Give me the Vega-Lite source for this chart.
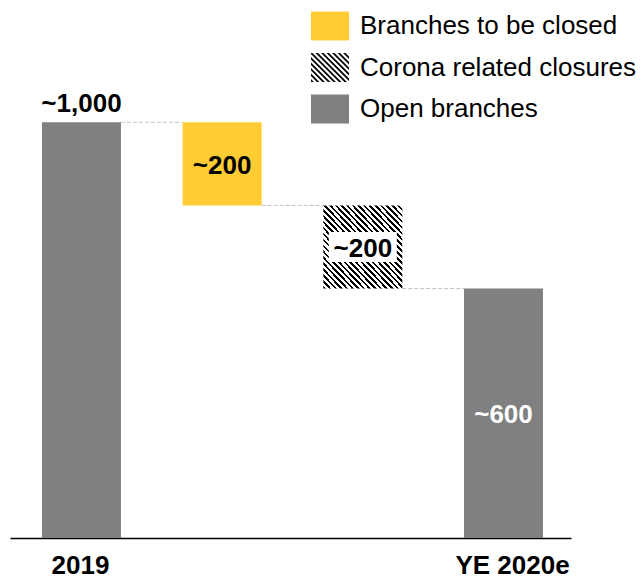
{
  "$schema": "https://vega.github.io/schema/vega-lite/v6.json",
  "autosize": {"type": "none"},
  "padding": {"left": 10, "top": 10, "right": 71, "bottom": 40},
  "width": 561,
  "height": 528,
  "background": "white",
  "config": {"view": {"stroke": null}, "font": "Liberation Sans"},
  "datasets": {
    "bars": [
      {"cat": "2019", "type": "Open branches", "start": 0, "end": 1000, "label": "~1,000"},
      {"cat": "closed", "type": "Branches to be closed", "start": 800, "end": 1000, "label": "~200"},
      {"cat": "corona", "type": "Corona related closures", "start": 600, "end": 800, "label": "~200"},
      {"cat": "YE 2020e", "type": "Open branches", "start": 0, "end": 600, "label": "~600"}
    ],
    "links": [
      {"from": "2019", "to": "closed", "level": 1000},
      {"from": "closed", "to": "corona", "level": 800},
      {"from": "corona", "to": "YE 2020e", "level": 600}
    ]
  },
  "layer": [
    {
      "data": {"name": "bars"},
      "transform": [{"calculate": "(datum.start + datum.end) / 2", "as": "mid"}],
      "mark": {"type": "point", "filled": true, "size": 1444, "opacity": 1, "strokeWidth": 0},
      "encoding": {
        "x": {
          "field": "cat", "type": "nominal", "sort": ["2019", "closed", "corona", "YE 2020e"],
          "title": null,
          "scale": {"domain": ["2019", "closed", "corona", "YE 2020e"], "paddingInner": 0.4384, "paddingOuter": 0.2132, "align": 0.533},
          "axis": {
            "labelExpr": "datum.value === '2019' || datum.value === 'YE 2020e' ? datum.value : ''",
            "labelAngle": 0, "labelFontSize": 26, "labelFontWeight": "bold", "labelColor": "#000",
            "labelFont": "Liberation Sans", "labelPadding": 14, "ticks": false, "tickSize": 0,
            "domainColor": "#000", "domainWidth": 1.5, "labelOverlap": false,
            "labelOffset": {"condition": {"test": "datum.value === 'YE 2020e'", "value": 9}, "value": -1}
          }
        },
        "y": {"field": "mid", "type": "quantitative", "scale": {"domain": [0, 1270], "nice": false}, "axis": null},
        "color": {
          "field": "type", "type": "nominal",
          "scale": {
            "domain": ["Branches to be closed", "Corona related closures", "Open branches"],
            "range": ["#FFCC33", "#000000", "#808080"]
          },
          "legend": {
            "orient": "none", "legendX": 301, "legendY": -3, "title": null, "padding": 0,
            "symbolSize": 1444, "symbolStrokeWidth": 0, "symbolOpacity": 1,
            "labelFontSize": 26, "labelFont": "Liberation Sans", "labelColor": "#000",
            "labelOffset": 11, "rowPadding": 7.5, "labelLimit": 0
          }
        },
        "shape": {
          "field": "type", "type": "nominal",
          "scale": {
            "domain": ["Branches to be closed", "Corona related closures", "Open branches"],
            "range": [
              "M-1,-0.763H1V0.763H-1Z",
              "M-1,0.74L-1,0.61L-0.847,0.763L-0.977,0.763ZM-1,0.45L-1,0.32L-0.557,0.763L-0.687,0.763ZM-1,0.16L-1,0.03L-0.267,0.763L-0.397,0.763ZM-1,-0.13L-1,-0.26L0.023,0.763L-0.107,0.763ZM-1,-0.42L-1,-0.55L0.313,0.763L0.183,0.763ZM-1,-0.71L-1,-0.763L-0.923,-0.763L0.603,0.763L0.473,0.763ZM-0.763,-0.763L-0.633,-0.763L0.893,0.763L0.763,0.763ZM-0.473,-0.763L-0.343,-0.763L1,0.58L1,0.71ZM-0.183,-0.763L-0.053,-0.763L1,0.29L1,0.42ZM0.107,-0.763L0.237,-0.763L1,0L1,0.13ZM0.397,-0.763L0.527,-0.763L1,-0.29L1,-0.16ZM0.687,-0.763L0.817,-0.763L1,-0.58L1,-0.45ZM0.977,-0.763L1,-0.763L1,-0.74Z",
              "M-1,-0.763H1V0.763H-1Z"
            ]
          },
          "legend": {
            "orient": "none", "legendX": 301, "legendY": -3, "title": null, "padding": 0,
            "symbolSize": 1444, "symbolStrokeWidth": 0, "symbolOpacity": 1,
            "labelFontSize": 26, "labelFont": "Liberation Sans", "labelColor": "#000",
            "labelOffset": 11, "rowPadding": 7.5, "labelLimit": 0
          }
        }
      }
    },
    {
      "data": {"name": "bars"},
      "transform": [{"filter": "datum.type !== 'Corona related closures'"}],
      "mark": {"type": "bar"},
      "encoding": {
        "x": {"field": "cat", "type": "nominal", "title": null},
        "y": {"field": "start", "type": "quantitative", "scale": {"domain": [0, 1270], "nice": false}, "axis": null},
        "y2": {"field": "end"},
        "color": {"condition": {"test": "datum.type === 'Open branches'", "value": "#808080"}, "value": "#FFCC33"}
      }
    },
    {
      "data": {"name": "bars"},
      "transform": [{"filter": "datum.type === 'Corona related closures'"}],
      "mark": {"type": "bar", "color": {"gradient": "linear", "x1": 0, "y1": 1, "x2": 1, "y2": 0, "stops": [
        {"offset":0,"color":"#000"},{"offset":0.016,"color":"#000"},{"offset":0.016,"color":"#fff"},{"offset":0.0357,"color":"#fff"},
        {"offset":0.0357,"color":"#000"},{"offset":0.0517,"color":"#000"},{"offset":0.0517,"color":"#fff"},{"offset":0.0714,"color":"#fff"},
        {"offset":0.0714,"color":"#000"},{"offset":0.0874,"color":"#000"},{"offset":0.0874,"color":"#fff"},{"offset":0.1071,"color":"#fff"},
        {"offset":0.1071,"color":"#000"},{"offset":0.1231,"color":"#000"},{"offset":0.1231,"color":"#fff"},{"offset":0.1429,"color":"#fff"},
        {"offset":0.1429,"color":"#000"},{"offset":0.1589,"color":"#000"},{"offset":0.1589,"color":"#fff"},{"offset":0.1786,"color":"#fff"},
        {"offset":0.1786,"color":"#000"},{"offset":0.1946,"color":"#000"},{"offset":0.1946,"color":"#fff"},{"offset":0.2143,"color":"#fff"},
        {"offset":0.2143,"color":"#000"},{"offset":0.2303,"color":"#000"},{"offset":0.2303,"color":"#fff"},{"offset":0.25,"color":"#fff"},
        {"offset":0.25,"color":"#000"},{"offset":0.266,"color":"#000"},{"offset":0.266,"color":"#fff"},{"offset":0.2857,"color":"#fff"},
        {"offset":0.2857,"color":"#000"},{"offset":0.3017,"color":"#000"},{"offset":0.3017,"color":"#fff"},{"offset":0.3214,"color":"#fff"},
        {"offset":0.3214,"color":"#000"},{"offset":0.3374,"color":"#000"},{"offset":0.3374,"color":"#fff"},{"offset":0.3571,"color":"#fff"},
        {"offset":0.3571,"color":"#000"},{"offset":0.3731,"color":"#000"},{"offset":0.3731,"color":"#fff"},{"offset":0.3929,"color":"#fff"},
        {"offset":0.3929,"color":"#000"},{"offset":0.4089,"color":"#000"},{"offset":0.4089,"color":"#fff"},{"offset":0.4286,"color":"#fff"},
        {"offset":0.4286,"color":"#000"},{"offset":0.4446,"color":"#000"},{"offset":0.4446,"color":"#fff"},{"offset":0.4643,"color":"#fff"},
        {"offset":0.4643,"color":"#000"},{"offset":0.4803,"color":"#000"},{"offset":0.4803,"color":"#fff"},{"offset":0.5,"color":"#fff"},
        {"offset":0.5,"color":"#000"},{"offset":0.516,"color":"#000"},{"offset":0.516,"color":"#fff"},{"offset":0.5357,"color":"#fff"},
        {"offset":0.5357,"color":"#000"},{"offset":0.5517,"color":"#000"},{"offset":0.5517,"color":"#fff"},{"offset":0.5714,"color":"#fff"},
        {"offset":0.5714,"color":"#000"},{"offset":0.5874,"color":"#000"},{"offset":0.5874,"color":"#fff"},{"offset":0.6071,"color":"#fff"},
        {"offset":0.6071,"color":"#000"},{"offset":0.6231,"color":"#000"},{"offset":0.6231,"color":"#fff"},{"offset":0.6429,"color":"#fff"},
        {"offset":0.6429,"color":"#000"},{"offset":0.6589,"color":"#000"},{"offset":0.6589,"color":"#fff"},{"offset":0.6786,"color":"#fff"},
        {"offset":0.6786,"color":"#000"},{"offset":0.6946,"color":"#000"},{"offset":0.6946,"color":"#fff"},{"offset":0.7143,"color":"#fff"},
        {"offset":0.7143,"color":"#000"},{"offset":0.7303,"color":"#000"},{"offset":0.7303,"color":"#fff"},{"offset":0.75,"color":"#fff"},
        {"offset":0.75,"color":"#000"},{"offset":0.766,"color":"#000"},{"offset":0.766,"color":"#fff"},{"offset":0.7857,"color":"#fff"},
        {"offset":0.7857,"color":"#000"},{"offset":0.8017,"color":"#000"},{"offset":0.8017,"color":"#fff"},{"offset":0.8214,"color":"#fff"},
        {"offset":0.8214,"color":"#000"},{"offset":0.8374,"color":"#000"},{"offset":0.8374,"color":"#fff"},{"offset":0.8571,"color":"#fff"},
        {"offset":0.8571,"color":"#000"},{"offset":0.8731,"color":"#000"},{"offset":0.8731,"color":"#fff"},{"offset":0.8929,"color":"#fff"},
        {"offset":0.8929,"color":"#000"},{"offset":0.9089,"color":"#000"},{"offset":0.9089,"color":"#fff"},{"offset":0.9286,"color":"#fff"},
        {"offset":0.9286,"color":"#000"},{"offset":0.9446,"color":"#000"},{"offset":0.9446,"color":"#fff"},{"offset":0.9643,"color":"#fff"},
        {"offset":0.9643,"color":"#000"},{"offset":0.9803,"color":"#000"},{"offset":0.9803,"color":"#fff"},{"offset":1,"color":"#fff"}
      ]}},
      "encoding": {
        "x": {"field": "cat", "type": "nominal", "title": null},
        "y": {"field": "start", "type": "quantitative", "scale": {"domain": [0, 1270], "nice": false}, "axis": null},
        "y2": {"field": "end"}
      }
    },
    {
      "data": {"name": "links"},
      "mark": {"type": "rule", "color": "#c4c4c4", "strokeWidth": 1, "strokeDash": [4, 2], "xOffset": 39.5, "x2Offset": -39.5},
      "encoding": {
        "x": {"field": "from", "type": "nominal", "title": null},
        "x2": {"field": "to"},
        "y": {"field": "level", "type": "quantitative", "scale": {"domain": [0, 1270], "nice": false}, "axis": null}
      }
    },
    {
      "data": {"name": "bars"},
      "transform": [
        {"filter": "datum.type === 'Corona related closures'"},
        {"calculate": "(datum.start + datum.end) / 2", "as": "mid"}
      ],
      "mark": {"type": "point", "shape": "M-1,-0.44H1V0.44H-1Z", "size": 4624, "filled": true, "color": "#fff", "opacity": 1, "strokeWidth": 0},
      "encoding": {
        "x": {"field": "cat", "type": "nominal", "title": null},
        "y": {"field": "mid", "type": "quantitative", "scale": {"domain": [0, 1270], "nice": false}, "axis": null}
      }
    },
    {
      "data": {"name": "bars"},
      "transform": [{"filter": "datum.cat === '2019'"}],
      "mark": {"type": "text", "baseline": "alphabetic", "dy": -10, "fontSize": 26, "fontWeight": "bold", "font": "Liberation Sans", "color": "#000"},
      "encoding": {
        "x": {"field": "cat", "type": "nominal", "title": null},
        "y": {"field": "end", "type": "quantitative", "scale": {"domain": [0, 1270], "nice": false}, "axis": null},
        "text": {"field": "label"}
      }
    },
    {
      "data": {"name": "bars"},
      "transform": [
        {"filter": "datum.cat !== '2019'"},
        {"calculate": "(datum.start + datum.end) / 2", "as": "mid"}
      ],
      "mark": {"type": "text", "baseline": "middle", "dy": 2, "fontSize": 26, "fontWeight": "bold", "font": "Liberation Sans"},
      "encoding": {
        "x": {"field": "cat", "type": "nominal", "title": null},
        "y": {"field": "mid", "type": "quantitative", "scale": {"domain": [0, 1270], "nice": false}, "axis": null},
        "text": {"field": "label"},
        "color": {"condition": {"test": "datum.type === 'Open branches'", "value": "#fff"}, "value": "#000"}
      }
    }
  ]
}
